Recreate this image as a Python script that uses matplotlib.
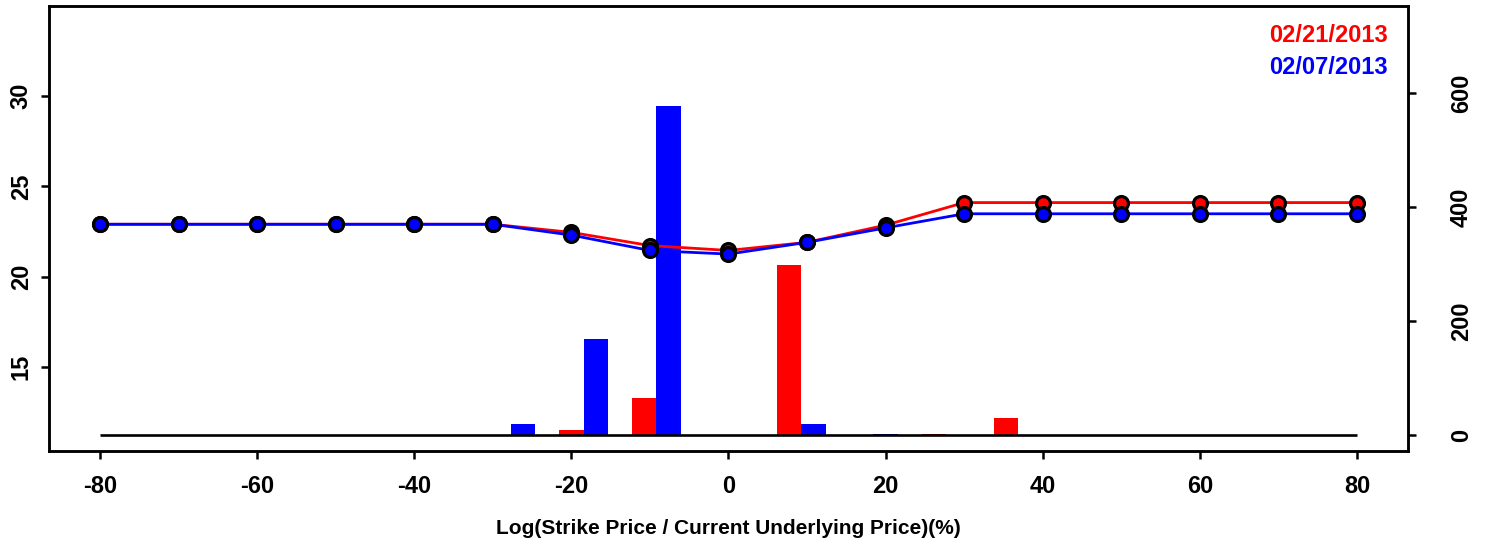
import matplotlib.pyplot as plt

plt.rcParams['font.family'] = ['Liberation Sans', 'DejaVu Sans']
plt.rcParams['font.weight'] = 'bold'
plt.rcParams['axes.unicode_minus'] = False

# moneyness grid (%) and implied volatility per date
strikes = [-80, -70, -60, -50, -40, -30, -20, -10, 0, 10, 20, 30, 40, 50, 60, 70, 80]
vol_0221 = [22.9, 22.9, 22.9, 22.9, 22.9, 22.9, 22.45, 21.72, 21.45, 21.9, 22.85,
            24.1, 24.1, 24.1, 24.1, 24.1, 24.1]
vol_0207 = [22.9, 22.9, 22.9, 22.9, 22.9, 22.9, 22.3, 21.45, 21.25, 21.9, 22.7,
            23.48, 23.48, 23.48, 23.48, 23.48, 23.48]

# volume bins (right axis)
bins = [-27.7, -18.45, -9.2, 0.0, 9.25, 18.45, 27.7, 36.9]
volume_0221 = [0, 9, 65, 0, 299, 0, 1.5, 29]
volume_0207 = [19, 168, 578, 0, 19, 1.5, 0, 0]

red, blue = '#ff0000', '#0000ff'
bar_w = 3.1

fig = plt.figure(figsize=(14.86, 5.42), dpi=100)
ax_bar = fig.add_axes([0.03297, 0.1679, 0.91454, 0.8210])
ax = ax_bar.twinx()

# bars on the volume axis
ax_bar.bar([b - bar_w / 2 for b in bins], volume_0221, width=bar_w, color=red, linewidth=0)
ax_bar.bar([b + bar_w / 2 for b in bins], volume_0207, width=bar_w, color=blue, linewidth=0)
ax_bar.hlines(0, strikes[0], strikes[-1], color='black', linewidth=1.9)
ax_bar.set_ylim(-28.1, 753.3)
ax_bar.set_yticks([0, 200, 400, 600])

# volatility lines
ax.plot(strikes, vol_0221, color=red, linewidth=2, marker='o', markersize=10,
        markerfacecolor=red, markeredgecolor='black', markeredgewidth=2.3)
ax.plot(strikes, vol_0207, color=blue, linewidth=2, marker='o', markersize=10,
        markerfacecolor=blue, markeredgecolor='black', markeredgewidth=2.3)
ax.set_ylim(10.35, 34.98)
ax.set_yticks([15, 20, 25, 30])
ax.set_xlim(-86.5, 86.5)
ax.set_xticks(range(-80, 81, 20))

# left axis for volatility, right axis for volume
ax.yaxis.tick_left()
ax_bar.yaxis.tick_right()

for a in (ax, ax_bar):
    for s in a.spines.values():
        s.set_linewidth(1.8)
    a.tick_params(length=5.5, width=1.8, labelsize=17)

ax.tick_params(axis='y', labelrotation=90, pad=14.5)
ax_bar.tick_params(axis='y', labelrotation=90, pad=33)
ax_bar.tick_params(axis='x', pad=12)
for lbl in ax.get_yticklabels() + ax_bar.get_yticklabels():
    lbl.set_ha('center')
    lbl.set_va('center')

ax_bar.set_xlabel('Log(Strike Price / Current Underlying Price)(%)', fontsize=15,
                  fontweight='bold', labelpad=15)

ax.text(0.985, 0.934, '02/21/2013', transform=ax.transAxes, color=red,
        fontsize=17, fontweight='bold', ha='right', va='center')
ax.text(0.985, 0.862, '02/07/2013', transform=ax.transAxes, color=blue,
        fontsize=17, fontweight='bold', ha='right', va='center')

fig.savefig('out.png', dpi=100)
